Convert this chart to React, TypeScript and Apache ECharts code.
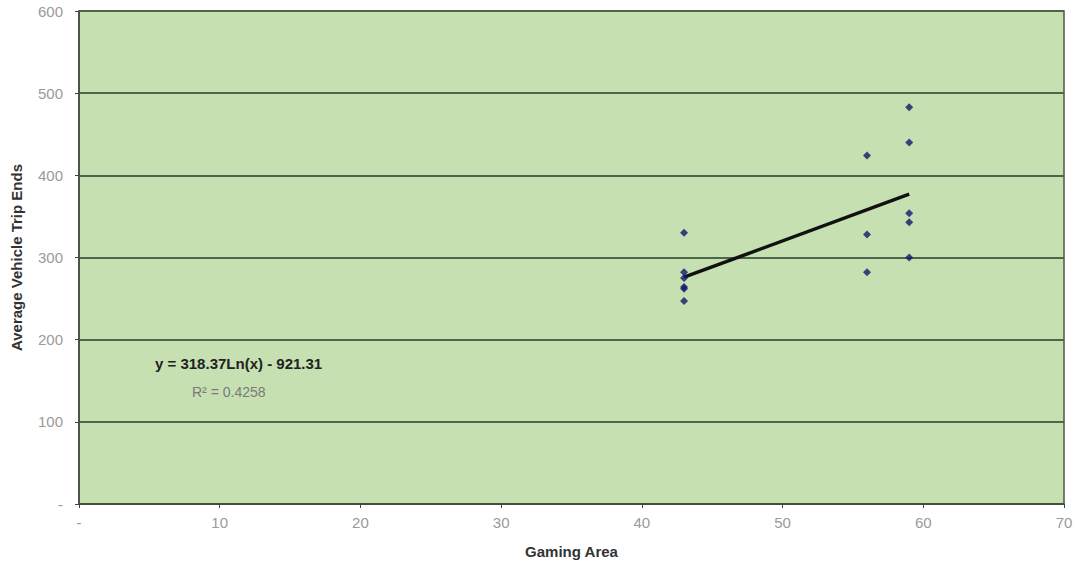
import React, { useEffect, useRef } from "react";
import * as echarts from "echarts";

const xTickLabels = ["-", "10", "20", "30", "40", "50", "60", "70"];
const yTickLabels = ["-", "100", "200", "300", "400", "500", "600"];

const gamingArea = [43, 43, 43, 43, 43, 43, 56, 56, 56, 59, 59, 59, 59, 59];
const tripEnds = [330, 282, 275, 264, 262, 247, 424, 328, 282, 483, 440, 354, 343, 300];

const trendX = [43, 59];
const trendY = [276, 377];

const equationText = "y = 318.37Ln(x) - 921.31";
const r2Text = "R² = 0.4258";

export default function App() {
  const ref = useRef<HTMLDivElement>(null);
  useEffect(() => {
    const chart = echarts.init(ref.current!, null, { renderer: "svg" });
    const gray = "#9a9a9a";
    chart.setOption({
      animation: false,
      backgroundColor: "#ffffff",
      grid: {
        left: 79,
        right: 14,
        top: 11,
        bottom: 61,
        show: true,
        backgroundColor: "#c6e0b2",
        borderColor: "#4a5a44",
        borderWidth: 1.5,
      },
      xAxis: {
        type: "value",
        min: 0,
        max: 70,
        interval: 10,
        name: "Gaming Area",
        nameLocation: "middle",
        nameGap: 40,
        nameTextStyle: { fontFamily: "Liberation Sans", fontWeight: "bold", fontSize: 15, color: "#333" },
        axisLine: { show: true, onZero: false, lineStyle: { color: "#3f4a3c", width: 1.5 } },
        axisTick: { show: true, length: 4, lineStyle: { color: "#3f4a3c" } },
        axisLabel: {
          color: gray,
          fontFamily: "Liberation Sans",
          fontSize: 15,
          margin: 11,
          formatter: (v: number) => xTickLabels[Math.round(v / 10)],
        },
        splitLine: { show: false },
      },
      yAxis: {
        type: "value",
        min: 0,
        max: 600,
        interval: 100,
        name: "Average Vehicle Trip Ends",
        nameLocation: "middle",
        nameGap: 55,
        nameTextStyle: { fontFamily: "Liberation Sans", fontWeight: "bold", fontSize: 15, color: "#333" },
        axisLine: { show: true, lineStyle: { color: "#3f4a3c", width: 1.5 } },
        axisTick: { show: true, length: 4, lineStyle: { color: "#3f4a3c" } },
        axisLabel: {
          color: gray,
          fontFamily: "Liberation Sans",
          fontSize: 15,
          margin: 16,
          formatter: (v: number) => yTickLabels[Math.round(v / 100)],
        },
        splitLine: { show: true, lineStyle: { color: "#4d6548", width: 2 } },
      },
      series: [
        {
          type: "line",
          data: trendX.map((x, i) => [x, trendY[i]]),
          showSymbol: false,
          smooth: false,
          lineStyle: { color: "#111111", width: 3.5 },
          z: 2,
        },
        {
          type: "scatter",
          data: gamingArea.map((x, i) => [x, tripEnds[i]]),
          symbol: "diamond",
          symbolSize: 8,
          itemStyle: { color: "#0f1a6e" },
          z: 3,
        },
      ],
      graphic: [
        {
          type: "text",
          left: 155,
          top: 356,
          style: { text: equationText, fontFamily: "Liberation Sans", fontWeight: "bold", fontSize: 15, fill: "#222" },
        },
        {
          type: "text",
          left: 192,
          top: 385,
          style: { text: r2Text, fontFamily: "Liberation Sans", fontSize: 14, fill: "#7a7a7a" },
        },
      ],
    });
    return () => chart.dispose();
  }, []);
  return <div ref={ref} style={{ width: 1078, height: 565, position: "absolute", left: 0, top: 0 }} />;
}
